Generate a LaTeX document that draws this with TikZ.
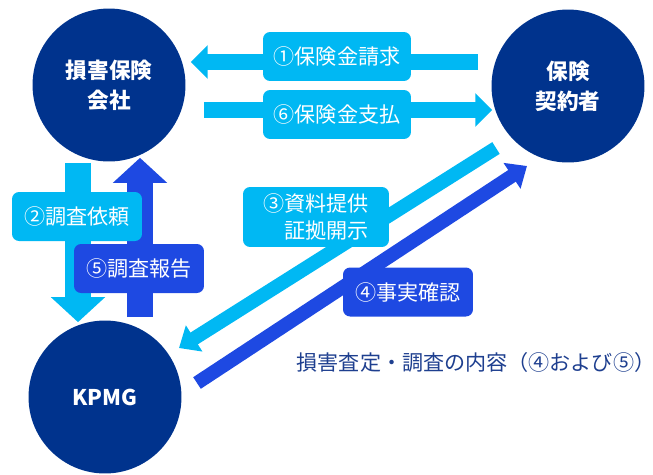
\documentclass[tikz,border=0pt]{standalone}
\usepackage{fontspec}
\setmainfont{Noto Sans CJK JP}
\usetikzlibrary{arrows.meta, positioning, calc}

\definecolor{kpmgnavy}{HTML}{00338D}
\definecolor{kpmgcyan}{HTML}{00B8F3}
\definecolor{kpmgcobalt}{HTML}{1E49E2}
\definecolor{notetext}{HTML}{1E3F8F}

\begin{document}
\begin{tikzpicture}[x=0.02cm, y=-0.02cm,
    party/.style={circle, fill=kpmgnavy, text=white, align=center, inner sep=0pt,
        minimum size=3.06cm, font=\fontsize{12.3}{17}\selectfont\bfseries},
    tag/.style={rounded corners=4pt, text=white, align=center, inner sep=0pt,
        minimum height=0.98cm, font=\fontsize{12}{15.5}\selectfont},
    hflow/.style={-{Triangle[length=9.6pt, width=18.7pt]}, line width=9.6pt},
    vflow/.style={-{Triangle[length=14.2pt, width=30pt]}, line width=14.7pt},
    dflow/.style={-{Triangle[length=10.2pt, width=17pt]}, line width=7.9pt}
]
    \useasboundingbox (0,0) rectangle (653,474);

    % Parties
    \node[party] (insurer) at (109,85) {損害保険\\会社};
    \node[party] (holder) at (568,86) {保険\\契約者};
    \node[party] (kpmg) at (105,397) {KPMG};

    % Flows between insurer and policy holder
    \draw[hflow, kpmgcyan] ($(holder.west)+(-13,-24)$) -- ($(insurer.east)+(5,-23)$);
    \draw[hflow, kpmgcyan] ($(insurer.east)+(18,25)$) -- ($(holder.west)+(1,24)$);

    % Flows between insurer and KPMG
    \draw[vflow, kpmgcyan] ($(insurer.south)+(-31,1)$) -- ($(kpmg.north)+(-27,2)$);
    \draw[vflow, kpmgcobalt] ($(kpmg.north)+(35,-3)$) -- ($(insurer.south)+(31,-4)$);

    % Flows between policy holder and KPMG
    \draw[dflow, kpmgcyan] ($(holder)+(-72,62)$) -- ($(kpmg)+(74,-49)$);
    \draw[dflow, kpmgcobalt] ($(kpmg)+(92,-14)$) -- ($(holder)+(-41,80)$);

    % Labels
    \node[tag, fill=kpmgcyan, minimum width=2.96cm] (claim) at (337,56.5) {①保険金請求};
    \node[tag, fill=kpmgcyan, minimum width=2.96cm] (pay) at (337,114.5) {⑥保険金支払};
    \node[tag, fill=kpmgcyan, minimum width=2.6cm] (request) at (77,216.5) {②調査依頼};
    \node[tag, fill=kpmgcobalt, minimum width=2.6cm] (report) at (139,268.5) {⑤調査報告};
    \node[tag, fill=kpmgcyan, minimum width=2.92cm, minimum height=1.2cm, align=right] (docs) at (316,217) {③資料提供\\証拠開示};
    \node[tag, fill=kpmgcobalt, minimum width=2.6cm] (check) at (408,292) {④事実確認};

    % Note
    \node[text=notetext, font=\fontsize{12}{14}\selectfont] (note) at (476,362) {損害査定・調査の内容（④および⑤）};
\end{tikzpicture}
\end{document}
